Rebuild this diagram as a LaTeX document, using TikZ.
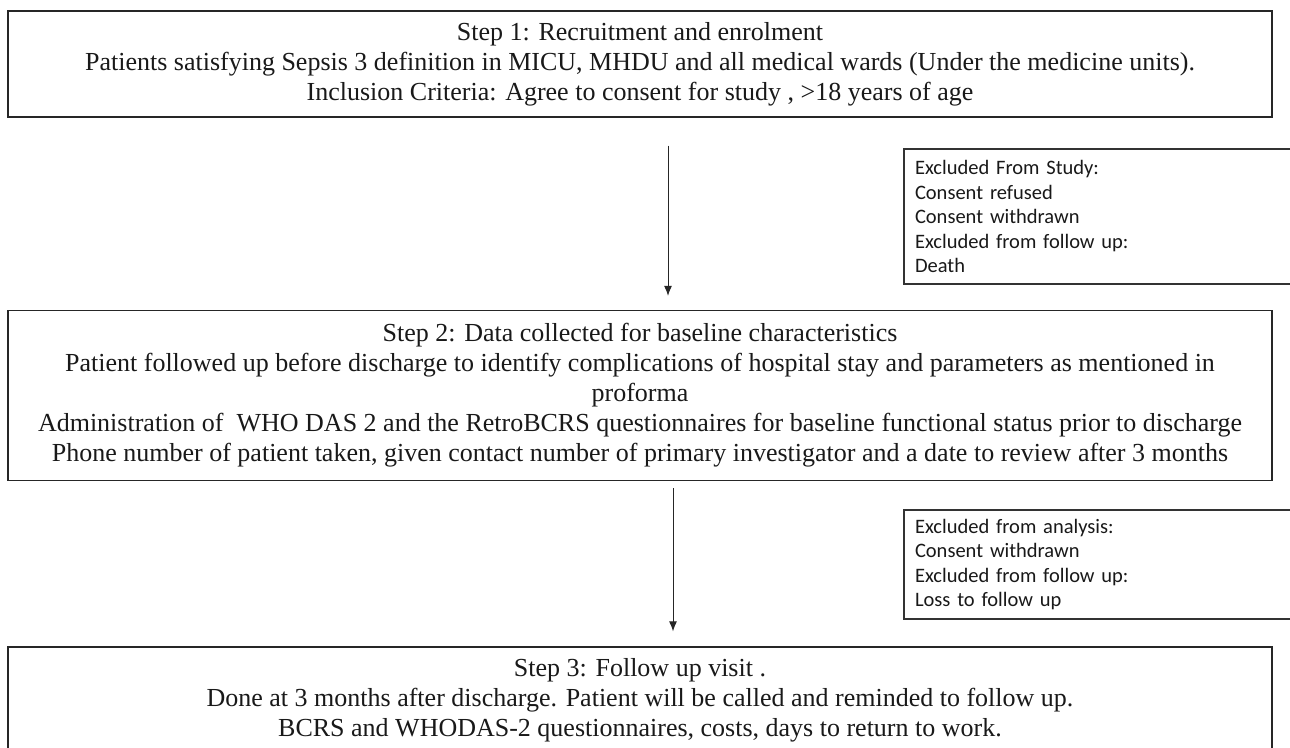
\documentclass[tikz,border=0pt]{standalone}
\usepackage{fontspec}
\setmainfont{Liberation Serif}
\newfontfamily\calibrifont{Carlito}
\usetikzlibrary{arrows.meta}
\begin{document}
\begin{tikzpicture}[x=1pt,y=-1pt,
  stepbox/.style={draw=black!85, line width=1.3pt, rectangle, inner sep=0pt,
    align=center, font=\fontsize{26}{30}\selectfont, text=black!90},
  sidebox/.style={draw=black!80, line width=1.1pt, rectangle, inner sep=0pt,
    align=left, font=\calibrifont\fontsize{20.5}{24.5}\selectfont, text=black!90},
  flow/.style={-{Latex[length=10pt,width=8pt]}, line width=1pt, draw=black!85}]
\useasboundingbox (0,0) rectangle (1290,747);
\clip (0,0) rectangle (1290,747);
\fill[white] (0,0) rectangle (1290,747);

\node[stepbox, minimum width=1264pt, minimum height=106pt] (s1) at (640,64)
  {Step 1: Recruitment and enrolment\\
   Patients satisfying Sepsis 3 definition in MICU, MHDU and all medical wards (Under the medicine units).\\
   Inclusion Criteria: Agree to consent for study , >18 years of age};

\node[stepbox, minimum width=1264pt, minimum height=170pt] (s2) at (640,395.5)
  {Step 2: Data collected for baseline characteristics\\
   Patient followed up before discharge to identify complications of hospital stay and parameters as mentioned in\\
   proforma\\
   Administration of \ WHO DAS 2 and the RetroBCRS questionnaires for baseline functional status prior to discharge\\
   Phone number of patient taken, given contact number of primary investigator and a date to review after 3 months};

\node[stepbox, minimum width=1264pt, minimum height=106pt] (s3) at (640,700)
  {Step 3: Follow up visit .\\
   Done at 3 months after discharge. Patient will be called and reminded to follow up.\\
   BCRS and WHODAS-2 questionnaires, costs, days to return to work.};

\node[sidebox, minimum width=396pt, minimum height=135pt, text width=374pt] (x1) at (1102,216.5)
  {Excluded From Study:\\
   Consent refused\\
   Consent withdrawn\\
   Excluded from follow up:\\
   Death};

\node[sidebox, minimum width=396pt, minimum height=109pt, text width=374pt] (x2) at (1102,564.5)
  {Excluded from analysis:\\
   Consent withdrawn\\
   Excluded from follow up:\\
   Loss to follow up};

\coordinate (a1s) at ([xshift=28pt]s1.south);
\coordinate (a1e) at ([xshift=28pt]s2.north);
\coordinate (a2s) at ([xshift=33pt]s2.south);
\coordinate (a2e) at ([xshift=33pt]s3.north);
\draw[flow, shorten <=28pt, shorten >=14pt] (a1s) -- (a1e);
\draw[flow, shorten <=7pt, shorten >=15pt] (a2s) -- (a2e);
\end{tikzpicture}
\end{document}
